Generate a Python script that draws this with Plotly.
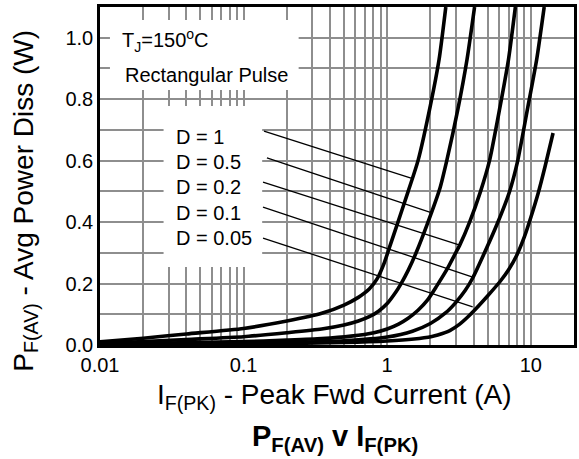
import plotly.graph_objects as go

# ---- data ----
I_D1 = [0.01, 0.02, 0.04, 0.1, 0.2, 0.35, 0.5, 0.63, 0.75, 0.85, 0.95, 1.05, 1.17, 1.4, 1.64, 2.0, 2.3, 2.56]
P_D1 = [0.01, 0.022, 0.036, 0.054, 0.078, 0.103, 0.13, 0.155, 0.182, 0.215, 0.265, 0.325, 0.39, 0.5, 0.6, 0.78, 0.93, 1.1]

I_D05 = [0.01, 0.04, 0.1, 0.2, 0.35, 0.5, 0.63, 0.75, 0.87, 1.0, 1.14, 1.25, 1.4, 1.59, 1.89, 2.33, 2.6, 3.1, 3.6, 4.06]
P_D05 = [0.005, 0.018, 0.027, 0.04, 0.052, 0.065, 0.078, 0.092, 0.11, 0.135, 0.17, 0.2, 0.243, 0.3, 0.39, 0.51, 0.6, 0.765, 0.93, 1.1]

I_D02 = [0.01, 0.1, 0.2, 0.35, 0.56, 0.81, 1.0, 1.2, 1.4, 1.64, 1.9, 2.2, 2.6, 3.0, 3.2, 3.75, 4.47, 5.16, 6.05, 7.0, 7.81]
P_D02 = [0.002, 0.011, 0.016, 0.021, 0.029, 0.04, 0.052, 0.068, 0.087, 0.113, 0.145, 0.19, 0.245, 0.3, 0.325, 0.4, 0.5, 0.6, 0.765, 0.93, 1.1]

I_D01 = [0.01, 0.1, 0.2, 0.5, 1.0, 1.5, 2.0, 2.56, 3.0, 3.5, 3.94, 4.76, 5.87, 7.1, 8.07, 9.46, 11.0, 12.4]
P_D01 = [0.001, 0.0054, 0.008, 0.014, 0.026, 0.045, 0.07, 0.105, 0.138, 0.178, 0.218, 0.3, 0.397, 0.498, 0.595, 0.765, 0.93, 1.1]

I_D005 = [0.01, 0.1, 0.5, 1.0, 1.54, 2.05, 2.25, 2.73, 3.2, 3.64, 4.07, 5.0, 6.15, 6.99, 7.94, 9.02, 10.08, 11.27, 12.6, 14.3]
P_D005 = [0.0007, 0.003, 0.008, 0.013, 0.0195, 0.0277, 0.0325, 0.047, 0.068, 0.0911, 0.1139, 0.1595, 0.2083, 0.244, 0.2896, 0.3515, 0.4198, 0.4946, 0.5825, 0.69]

series_I = [I_D1, I_D05, I_D02, I_D01, I_D005]
series_P = [P_D1, P_D05, P_D02, P_D01, P_D005]
labels = ["D = 1", "D = 0.5", "D = 0.2", "D = 0.1", "D = 0.05"]

# leader lines: start (at label) and end (on curve), data units
lead_x0 = [0.1387, 0.1454, 0.1365, 0.1365, 0.1365]
lead_y0 = [0.696, 0.609, 0.530, 0.449, 0.348]
lead_x1 = [1.466, 2.048, 3.20, 3.94, 3.94]
lead_y1 = [0.543, 0.430, 0.325, 0.221, 0.124]

x_tickvals = [0.01, 0.1, 1, 10]
x_ticktext = ["0.01", "0.1", "1", "10"]
y_tickvals = [0.0, 0.2, 0.4, 0.6, 0.8, 1.0]
y_ticktext = ["0.0", "0.2", "0.4", "0.6", "0.8", "1.0"]

FONT = "Arial, Liberation Sans, sans-serif"
GRID = "#8e8e8e"

fig = go.Figure()
for xs, ys, name in zip(series_I, series_P, labels):
    fig.add_trace(go.Scatter(x=xs, y=ys, mode="lines", name=name,
                             line=dict(color="black", width=3.6, shape="spline", smoothing=0.6),
                             showlegend=False, hoverinfo="skip"))

shapes = []
# white boxes behind the text blocks (cover the grid, stay below the curves)
shapes.append(dict(type="rect", xref="x", yref="y", x0=0.01173, x1=0.2418, y0=0.8298, y1=1.0576,
                   fillcolor="white", line=dict(width=0), layer="between"))
shapes.append(dict(type="rect", xref="x", yref="y", x0=0.02772, x1=0.1347, y0=0.2538, y1=0.7777,
                   fillcolor="white", line=dict(width=0), layer="between"))
for a, b, c, d in zip(lead_x0, lead_y0, lead_x1, lead_y1):
    shapes.append(dict(type="line", xref="x", yref="y", x0=a, y0=b, x1=c, y1=d,
                       line=dict(color="black", width=1.3), layer="above"))

annotations = []
label_y = [0.6145, 0.5414, 0.4675, 0.3905, 0.3166]
for t, yy in zip(labels, label_y):
    annotations.append(dict(text=t, xref="paper", yref="paper", x=0.157, y=yy,
                            xanchor="left", yanchor="middle", showarrow=False,
                            font=dict(family=FONT, size=20, color="black")))
annotations.append(dict(text="T<sub>J</sub>=150<sup>o</sup>C", xref="paper", yref="paper", x=0.042, y=0.902,
                        xanchor="left", yanchor="middle", showarrow=False,
                        font=dict(family=FONT, size=20, color="black")))
annotations.append(dict(text="Rectangular Pulse", xref="paper", yref="paper", x=0.048, y=0.799,
                        xanchor="left", yanchor="middle", showarrow=False,
                        font=dict(family=FONT, size=20, color="black")))
annotations.append(dict(text="P<sub>F(AV)</sub> - Avg Power Diss (W)", xref="paper", yref="paper",
                        x=-0.159, y=0.426, textangle=-90, xanchor="center", yanchor="middle",
                        showarrow=False, font=dict(family=FONT, size=28, color="black")))
annotations.append(dict(text="I<sub>F(PK)</sub> - Peak Fwd Current (A)", xref="paper", yref="paper",
                        x=0.495, y=-0.151, xanchor="center", yanchor="middle",
                        showarrow=False, font=dict(family=FONT, size=28, color="black")))
annotations.append(dict(text="<b>P<sub>F(AV)</sub> v I<sub>F(PK)</sub></b>", xref="paper", yref="paper",
                        x=0.495, y=-0.275, xanchor="center", yanchor="middle",
                        showarrow=False, font=dict(family=FONT, size=29, color="black")))

fig.update_layout(
    width=579, height=459,
    margin=dict(l=100, r=2, t=7, b=114),
    paper_bgcolor="white", plot_bgcolor="white",
    font=dict(family=FONT, size=20, color="black"),
    shapes=shapes, annotations=annotations,
    showlegend=False,
)
fig.update_xaxes(type="log", range=[-2, 1.30103],
                 tickvals=x_tickvals, ticktext=x_ticktext,
                 showgrid=True, gridcolor=GRID, gridwidth=1.5,
                 minor=dict(dtick="D1", showgrid=True, gridcolor=GRID, gridwidth=1.5, ticks=""),
                 showline=True, linecolor="black", linewidth=2.5, mirror=True,
                 ticks="", zeroline=False,
                 tickfont=dict(family=FONT, size=20, color="black"))
fig.update_yaxes(range=[0, 1.1],
                 tickvals=y_tickvals, ticktext=y_ticktext,
                 showgrid=True, gridcolor=GRID, gridwidth=1.5,
                 minor=dict(dtick=0.1, showgrid=True, gridcolor=GRID, gridwidth=1.5, ticks=""),
                 showline=True, linecolor="black", linewidth=2.5, mirror=True,
                 ticks="", zeroline=False,
                 tickfont=dict(family=FONT, size=20, color="black"))

fig.write_html("out.html", config={"displayModeBar": False},
               post_script="document.body.style.margin='0px';document.body.style.overflow='hidden';")
